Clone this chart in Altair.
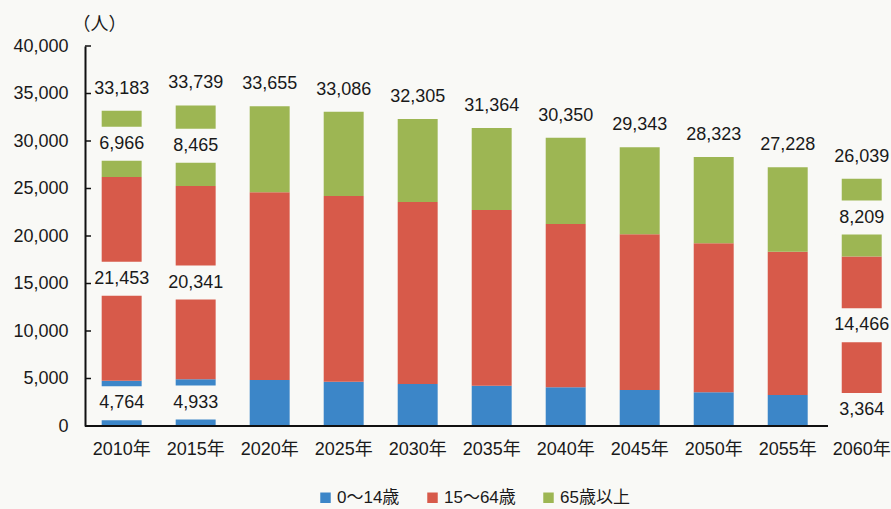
import altair as alt
import pandas as pd

# ---- data ----
years = ["2010年", "2015年", "2020年", "2025年", "2030年", "2035年",
         "2040年", "2045年", "2050年", "2055年", "2060年"]
groups = ["0～14歳", "15～64歳", "65歳以上"]
young = [4764, 4933, 4840, 4660, 4420, 4245, 4070, 3790, 3545, 3260, 3364]
working = [21453, 20341, 19760, 19550, 19160, 18495, 17190, 16385, 15685, 15090, 14466]
elderly = [6966, 8465, 9055, 8876, 8725, 8624, 9090, 9168, 9093, 8878, 8209]
totals = [33183, 33739, 33655, 33086, 32305, 31364, 30350, 29343, 28323, 27228, 26039]
labeled_years = ["2010年", "2015年", "2060年"]
y_ticks = [5000, 10000, 15000, 20000, 25000, 30000, 35000, 40000]

colors = ["#3c86c8", "#d75a4a", "#9db653"]
BG = "#f9f9f6"
FONT = "Liberation Sans, Noto Sans CJK JP"
INK = "#1a1a1a"

rows = []
for i, yr in enumerate(years):
    start = 0
    for g, vals in zip(groups, [young, working, elderly]):
        v = vals[i]
        rows.append({"year": yr, "group": g, "value": v, "start": start,
                     "end": start + v, "mid": start + v / 2,
                     "label": f"{v:,}", "order": groups.index(g)})
        start += v
df = pd.DataFrame(rows)
df_lab = df[df["year"].isin(labeled_years)]
df_tot = pd.DataFrame({"year": years, "total": totals,
                       "label": [f"{t:,}" for t in totals]})
df_ticks = pd.DataFrame({"v": y_ticks})

xscale = alt.Scale(paddingInner=0.46, paddingOuter=0.135, align=0.835)
yscale = alt.Scale(domain=[0, 40000], nice=False)

x_enc = alt.X("year:N", sort=years, scale=xscale,
              axis=alt.Axis(title=None, domain=False, ticks=False, labelAngle=0,
                            labelFontSize=18, labelPadding=14, labelColor=INK,
                            labelFont=FONT))

bars = alt.Chart(df).mark_bar().encode(
    x=x_enc,
    y=alt.Y("start:Q", scale=yscale,
            axis=alt.Axis(title="（人）", titleAngle=0, titleX=14, titleY=-22,
                          titleAlign="center", titleBaseline="middle",
                          titleFontSize=18, titleFontWeight="normal",
                          titleColor=INK, titleFont=FONT,
                          values=[0, 5000, 10000, 15000, 20000, 25000, 30000, 35000, 40000],
                          format=",.0f", grid=False, ticks=False,
                          labelFontSize=18, labelPadding=17, labelColor=INK,
                          labelFont=FONT, domainColor="#111", domainWidth=2)),
    y2="end:Q",
    color=alt.Color("group:N", scale=alt.Scale(domain=groups, range=colors),
                    legend=alt.Legend(title=None, orient="none", legendX=232,
                                      legendY=443, direction="horizontal",
                                      symbolType="square", symbolSize=110,
                                      symbolStrokeWidth=0, labelFontSize=17,
                                      labelFont=FONT, labelColor=INK,
                                      columnPadding=24, labelOffset=3)),
    order=alt.Order("order:Q"),
)

gaps = alt.Chart(df_lab).mark_tick(color=BG, thickness=34, size=52, opacity=1).encode(
    x=alt.X("year:N", sort=years),
    y=alt.Y("mid:Q"),
)

seg_text = alt.Chart(df_lab).mark_text(fontSize=18, font=FONT, color=INK,
                                       baseline="middle").encode(
    x=alt.X("year:N", sort=years),
    y=alt.Y("mid:Q"),
    text="label:N",
)

tot_text = alt.Chart(df_tot).mark_text(fontSize=18, font=FONT, color=INK,
                                       baseline="middle", dy=-22).encode(
    x=alt.X("year:N", sort=years),
    y=alt.Y("total:Q"),
    text="label:N",
)

x_line = alt.Chart(df_tot).mark_rule(color="#111", strokeWidth=2).encode(
    y=alt.datum(0), x=alt.value(0), x2=alt.value(743),
)

y_tick_marks = alt.Chart(df_ticks).mark_rule(color="#111", strokeWidth=1.5).encode(
    y=alt.Y("v:Q"), x=alt.value(0), x2=alt.value(6),
)

chart = alt.layer(bars, gaps, seg_text, tot_text, x_line, y_tick_marks).properties(
    width=800, height=380,
    autosize=alt.AutoSizeParams(type="none"),
    padding={"left": 85, "top": 46, "right": 6, "bottom": 83},
    background=BG,
).configure_view(stroke=None)

chart.save("out.html", embed_options={"renderer": "svg", "actions": False})
